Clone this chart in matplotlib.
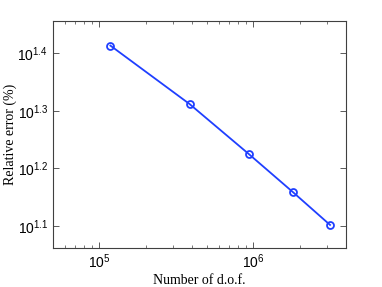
import matplotlib
matplotlib.use('Agg')
import matplotlib.pyplot as plt
from matplotlib.ticker import FixedLocator, NullLocator, LogLocator, NullFormatter

dofs = [1.18e5, 3.86e5, 9.33e5, 1.82e6, 3.15e6]
rel_err = [25.9, 20.5, 16.8, 14.4, 12.65]
ytick_exp = [1.1, 1.2, 1.3, 1.4]

plt.rcParams['mathtext.fontset'] = 'custom'
plt.rcParams['mathtext.rm'] = 'Liberation Sans'
plt.rcParams['mathtext.it'] = 'Liberation Sans'

fig = plt.figure(figsize=(3.82, 2.87), dpi=100)
ax = fig.add_axes([53/382, 1 - 248/287, (346-53)/382, (248-21)/287])

ax.plot(dofs, rel_err, '-o', color='#1f3fff', lw=1.3, ms=5, mfc='none', mew=1.3)

ax.set_xscale('log')
ax.set_yscale('log')
ax.set_xlim(5e4, 4e6)
ax.set_ylim(10**1.062, 10**1.456)

ax.xaxis.set_major_locator(FixedLocator([1e5, 1e6]))
ax.xaxis.set_minor_locator(LogLocator(base=10, subs=range(2, 10)))
ax.xaxis.set_minor_formatter(NullFormatter())
ax.set_xticklabels([r'$10^{5}$', r'$10^{6}$'])

ax.yaxis.set_major_locator(FixedLocator([10**e for e in ytick_exp]))
ax.yaxis.set_minor_locator(NullLocator())
ax.set_yticklabels([r'$10^{%.1f}$' % e for e in ytick_exp])

ax.tick_params(which='both', direction='in', top=True, right=True,
               labelsize=10, colors='#404040', labelcolor='black')
ax.tick_params(which='major', length=4, width=0.6)
ax.tick_params(which='minor', length=2, width=0.5)
for s in ax.spines.values():
    s.set_color('#404040')
    s.set_linewidth(0.8)

ax.set_xlabel('Number of d.o.f.', family='Liberation Serif', fontsize=10, labelpad=2)
ax.set_ylabel('Relative error (%)', family='Liberation Serif', fontsize=10)
ax.yaxis.set_label_coords(-36/293, 0.5)

fig.savefig('out.png', dpi=100)
